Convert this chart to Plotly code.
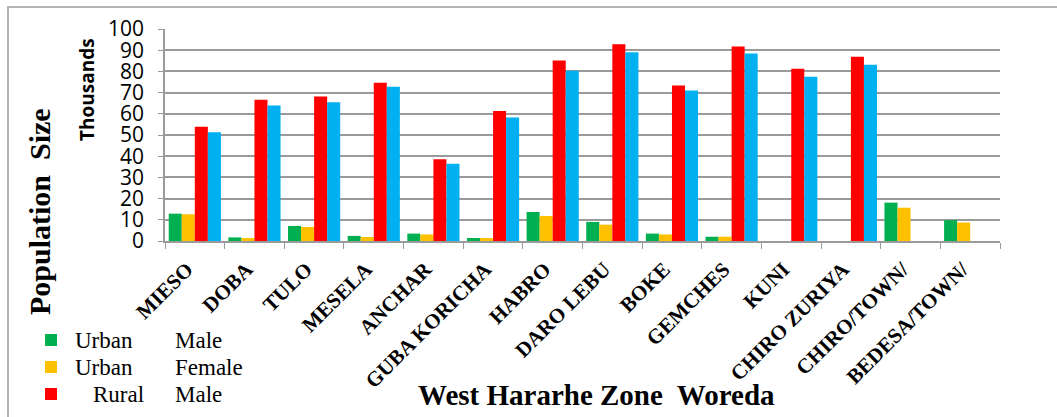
import plotly.graph_objects as go

# Woredas of West Hararghe zone
woredas = ["MIESO", "DOBA", "TULO", "MESELA", "ANCHAR", "GUBA KORICHA", "HABRO",
           "DARO LEBU", "BOKE", "GEMCHES", "KUNI", "CHIRO ZURIYA", "CHIRO/TOWN/",
           "BEDESA/TOWN/"]

# Population in thousands
urban_male = [12.9, 1.7, 7.1, 2.4, 3.5, 1.4, 13.7, 9.0, 3.5, 2.0, None, None, 18.1, 9.8]
urban_female = [12.6, 1.4, 6.6, 1.9, 3.1, 1.4, 11.8, 7.7, 3.1, 2.0, None, None, 15.7, 8.7]
rural_male = [53.9, 66.6, 68.2, 74.6, 38.6, 61.3, 85.2, 92.8, 73.4, 91.8, 81.3, 86.9, None, None]
rural_female = [51.3, 63.9, 65.5, 72.8, 36.4, 58.3, 80.3, 89.0, 71.0, 88.5, 77.5, 83.1, None, None]

y_ticks = [0, 10, 20, 30, 40, 50, 60, 70, 80, 90, 100]

# (area, sex, values, colour, shown in key)
series = [
    ("Urban", "Male", urban_male, "#00B050", True),
    ("Urban", "Female", urban_female, "#FFC000", True),
    ("Rural", "Male", rural_male, "#FF0000", True),
    ("Rural", "Female", rural_female, "#00B0F0", False),
]

fig = go.Figure()
for area, sex, vals, color, _ in series:
    fig.add_trace(go.Bar(
        x=woredas, y=vals, name=f"{area} {sex}", showlegend=False,
        marker=dict(color=color, line=dict(width=0)),
    ))

# plot-area geometry in pixels
W, H = 1057, 417
L, R, T, B = 165, 57, 29, 176
pw, ph = W - L - R, H - T - B


def px(x):
    return (x - L) / pw


def py(y):
    return (H - B - y) / ph


shapes = [
    dict(type="rect", xref="paper", yref="paper",
         x0=px(8), x1=px(1200), y0=py(800), y1=py(7),
         line=dict(color="#b4b4b4", width=2), fillcolor="rgba(0,0,0,0)",
         layer="below"),
]

annotations = [
    dict(text="Thousands", xref="paper", yref="paper",
         x=px(87), y=py(90), xanchor="center", yanchor="middle",
         textangle=-90, showarrow=False,
         font=dict(family="Open Sans", size=19, weight="bold", color="black")),
    dict(text="Population  Size", xref="paper", yref="paper",
         x=px(39), y=py(212), xanchor="center", yanchor="middle",
         textangle=-90, showarrow=False,
         font=dict(family="Liberation Serif", size=30, weight="bold", color="black")),
    dict(text="West Hararhe Zone  Woreda", xref="paper", yref="paper",
         x=px(596), y=py(395), xanchor="center", yanchor="middle",
         showarrow=False,
         font=dict(family="Liberation Serif", size=29, weight="bold", color="black")),
]

# key in the lower-left corner: a swatch, the area and the sex for each shown series
key_rows = [340, 367, 394]
key_font = dict(family="Liberation Serif", size=23, color="black")
shown = [s for s in series if s[4]]
for row_y, (area, sex, _, color, _) in zip(key_rows, shown):
    shapes.append(dict(type="rect", xref="paper", yref="paper",
                       x0=px(45), x1=px(57), y0=py(row_y + 6), y1=py(row_y - 6),
                       line=dict(width=0), fillcolor=color))
    area_x = 73 if area == "Urban" else 91
    annotations.append(dict(text=area, xref="paper", yref="paper",
                            x=px(area_x), y=py(row_y), xanchor="left", yanchor="middle",
                            showarrow=False, font=key_font))
    annotations.append(dict(text=sex, xref="paper", yref="paper",
                            x=px(173), y=py(row_y), xanchor="left", yanchor="middle",
                            showarrow=False, font=key_font))

fig.update_layout(
    width=W, height=H,
    margin=dict(l=L, r=R, t=T, b=B, autoexpand=False),
    paper_bgcolor="white", plot_bgcolor="white",
    barmode="group", bargap=0.125, bargroupgap=0,
    showlegend=False,
    font=dict(family="Liberation Serif", color="black"),
    xaxis=dict(
        type="category", automargin=False,
        showgrid=False,
        showline=True, linecolor="#9a9a9a", linewidth=1.5,
        ticks="outside", tickson="boundaries", ticklen=6, tickcolor="#9a9a9a",
        tickangle=-45, ticklabelshift=-8, ticklabelstandoff=6,
        tickfont=dict(family="Liberation Serif", size=21, weight="bold", color="black"),
    ),
    yaxis=dict(
        range=[0, 100], tickvals=y_ticks, automargin=False,
        showgrid=True, gridcolor="#9a9a9a", gridwidth=1.5,
        showline=True, linecolor="#9a9a9a", linewidth=1.5,
        ticks="outside", ticklen=5, tickcolor="#9a9a9a",
        ticklabelstandoff=10,
        tickfont=dict(family="Open Sans", size=21, color="black"),
        zeroline=False,
    ),
    shapes=shapes,
    annotations=annotations,
)

fig.write_html("out.html")
